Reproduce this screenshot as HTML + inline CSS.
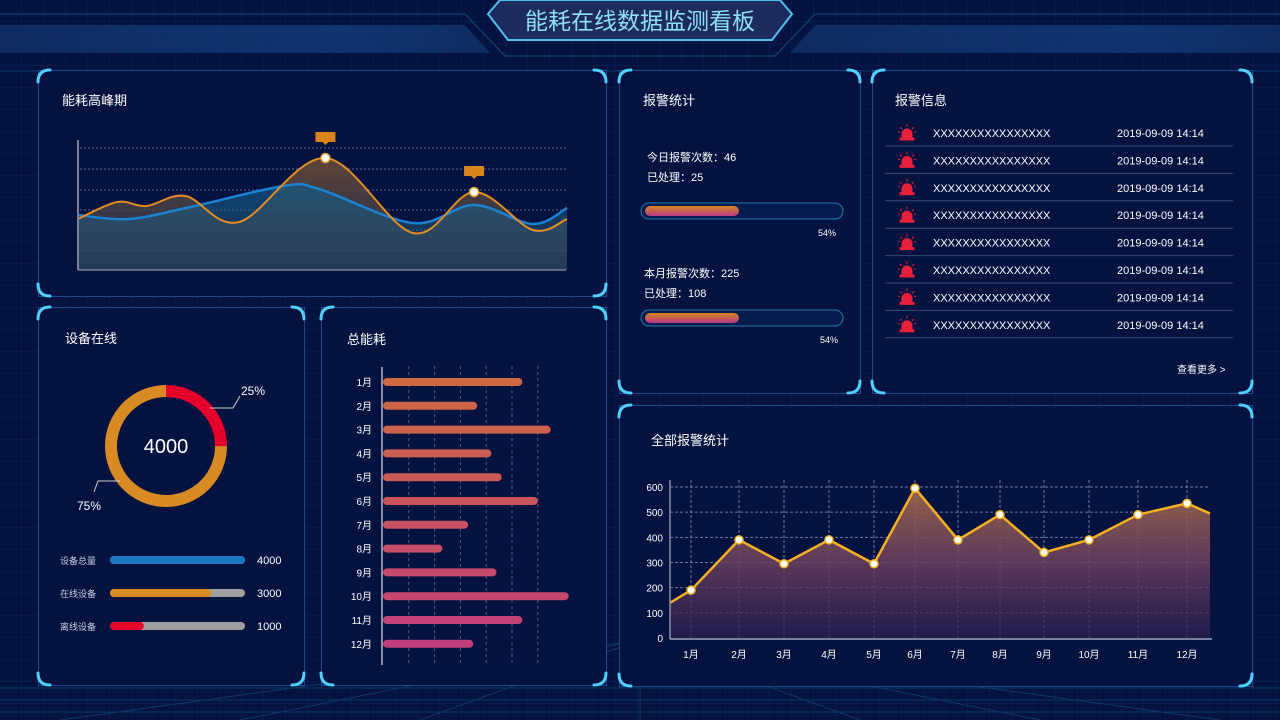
<!DOCTYPE html>
<html><head><meta charset="utf-8"><style>
html,body{margin:0;padding:0;width:1280px;height:720px;overflow:hidden;background:#031243;}
svg{display:block;font-family:"Liberation Sans","Noto Sans CJK SC",sans-serif;}
</style></head><body>
<svg id="root" width="1280" height="720" viewBox="0 0 1280 720">
<defs>
  <pattern id="grid" width="22" height="22" patternUnits="userSpaceOnUse">
    <path d="M22 0V22H0" fill="none" stroke="#0b2157" stroke-width="1"/>
  </pattern>
  <linearGradient id="areaO" x1="0" y1="0" x2="0" y2="1">
    <stop offset="0" stop-color="#6a4a35" stop-opacity="0.9"/><stop offset="1" stop-color="#2a3b5a" stop-opacity="0.6"/>
  </linearGradient>
  <linearGradient id="areaB" x1="0" y1="0" x2="0" y2="1">
    <stop offset="0" stop-color="#0b5a8a" stop-opacity="0.7"/><stop offset="1" stop-color="#3c5a6a" stop-opacity="0.3"/>
  </linearGradient>
  <linearGradient id="areaR" x1="0" y1="0" x2="0" y2="1">
    <stop offset="0" stop-color="#a56a4a" stop-opacity="0.9"/><stop offset="0.5" stop-color="#6a3f5e" stop-opacity="0.85"/><stop offset="1" stop-color="#2b1f4f" stop-opacity="0.7"/>
  </linearGradient>
  <linearGradient id="progG" x1="0" y1="0" x2="0" y2="1">
    <stop offset="0" stop-color="#d8861c"/><stop offset="1" stop-color="#b8388a"/>
  </linearGradient>
  <linearGradient id="bandG" x1="0" y1="0" x2="1" y2="0">
    <stop offset="0" stop-color="#0f2f66"/><stop offset="0.7" stop-color="#123a78"/><stop offset="1" stop-color="#0f2f66"/>
  </linearGradient>
</defs>
<rect width="1280" height="720" fill="#03123f"/>
<rect width="1280" height="720" fill="url(#grid)"/>
<g stroke="#0e4a7a" stroke-width="1" fill="none" opacity="0.7">
  <path d="M0 700 L1280 700 M0 688 L1280 688 M0 712 L1280 712"/>
  <path d="M640 640 L640 720 M640 640 L420 720 M640 640 L860 720 M640 640 L240 720 M640 640 L1040 720 M640 640 L60 720 M640 640 L1220 720"/>
</g>

<!-- header -->
<g>
  <path d="M0 25 L465 25 L490 53 L0 53 Z" fill="url(#bandG)" opacity="0.85"/>
  <path d="M1280 25 L815 25 L790 53 L1280 53 Z" fill="url(#bandG)" opacity="0.85"/>
  <path d="M0 14 L465 14 L505 56 L775 56 L815 14 L1280 14" fill="none" stroke="#174a80" stroke-width="1"/>
  <path d="M488 14 L500 0 L780 0 L792 14 L772 40 L508 40 Z" fill="#1d2a5e" stroke="#4fc0f0" stroke-width="2"/>
  <text x="640" y="29" text-anchor="middle" font-size="23" fill="#8ee0fa">能耗在线数据监测看板</text>
  <path d="M0 71 L1280 71" stroke="#0c3870" stroke-width="1"/>
</g>

<g id="panels"></g>

<g font-size="13" fill="#ffffff">
  <text x="62" y="105">能耗高峰期</text>
  <text x="65" y="343">设备在线</text>
  <text x="347" y="344">总能耗</text>
  <text x="643" y="105">报警统计</text>
  <text x="895" y="105">报警信息</text>
  <text x="651" y="445">全部报警统计</text>
</g>

<g id="peak"></g>
<g id="donut"></g>
<g id="bars"></g>
<g id="alarmStats"></g>
<g id="alarmList"></g>
<g id="allAlarm"></g>
</svg>
<script>
// ---------- data ----------
const peakOrangeX = [0, 8, 14, 22, 33, 50.6, 68.5, 81, 93, 100];
const peakOrangeV = [51, 68, 64, 74, 48, 112, 37, 78, 40, 51];
const peakBlueX = [0, 10.4, 23, 42, 49.3, 68.5, 81, 93, 100];
const peakBlueV = [55, 51, 63, 84, 81, 47, 65, 46, 62];
const peakMarkerIdx = [5, 7];

const donutLabels = ['离线', '在线'];
const donutValues = [25, 75];
const donutCenter = '4000';
const deviceLabels = ['设备总量', '在线设备', '离线设备'];
const deviceValues = [4000, 3000, 1000];

const barMonths = ['1月','2月','3月','4月','5月','6月','7月','8月','9月','10月','11月','12月'];
const barValues = [5.4, 3.65, 6.5, 4.2, 4.6, 6.0, 3.3, 2.3, 4.4, 7.2, 5.4, 3.5];

const todayAlarms = 46, todayHandled = 25, todayPct = 54;
const monthAlarms = 225, monthHandled = 108, monthPct = 54;

const alarmNames = Array(8).fill('XXXXXXXXXXXXXXXX');
const alarmTimes = Array(8).fill('2019-09-09  14:14');

const lineMonths = ['1月','2月','3月','4月','5月','6月','7月','8月','9月','10月','11月','12月'];
const lineValues = [190, 390, 295, 390, 295, 595, 390, 490, 340, 390, 490, 535];
const lineStartVal = 140, lineEndVal = 495;
const lineTicks = [0, 100, 200, 300, 400, 500, 600];

// ---------- helpers ----------
const NS = 'http://www.w3.org/2000/svg';
function mk(tag, attrs, parent){const e=document.createElementNS(NS,tag);for(const k in attrs)e.setAttribute(k,attrs[k]);parent.appendChild(e);return e;}
function txt(s, attrs, parent){const e=mk('text',attrs,parent);e.textContent=s;return e;}
function smooth(pts){
  let d='M'+pts[0][0]+' '+pts[0][1];
  for(let i=0;i<pts.length-1;i++){
    const p0=pts[i-1]||pts[i],p1=pts[i],p2=pts[i+1],p3=pts[i+2]||p2;
    const c1x=p1[0]+(p2[0]-p0[0])/6,c1y=p1[1]+(p2[1]-p0[1])/6;
    const c2x=p2[0]-(p3[0]-p1[0])/6,c2y=p2[1]-(p3[1]-p1[1])/6;
    d+=` C${c1x} ${c1y} ${c2x} ${c2y} ${p2[0]} ${p2[1]}`;
  }
  return d;
}

// ---------- panels ----------
const panels=[['panel-peak',38,70,568,226],['panel-device',38,307,266,378],['panel-total',321,307,285,378],
['panel-alarm-stats',619,70,241,323],['panel-alarm-info',872,70,380,323],['panel-all-alarm',619,405,633,281]];
const pg=document.getElementById('panels');
panels.forEach(p=>{
  const [n,x,y,w,h]=p;
  const g=mk('g',{},pg);
  
  
  mk('rect',{x:x+0.5,y:y+0.5,width:w,height:h,fill:'#03123f',stroke:'#1a4a8c','stroke-width':1},g);
  const c=12,s={fill:'none',stroke:'#4fd0ff','stroke-width':3,'stroke-linecap':'round'};
  mk('path',Object.assign({d:`M${x} ${y+c} Q${x} ${y} ${x+c} ${y}`},s),g);
  mk('path',Object.assign({d:`M${x+w-c} ${y} Q${x+w} ${y} ${x+w} ${y+c}`},s),g);
  mk('path',Object.assign({d:`M${x} ${y+h-c} Q${x} ${y+h} ${x+c} ${y+h}`},s),g);
  mk('path',Object.assign({d:`M${x+w-c} ${y+h} Q${x+w} ${y+h} ${x+w} ${y+h-c}`},s),g);
});

// ---------- peak chart ----------
(function(){
  const g=document.getElementById('peak');
  const X=v=>78+v*4.89, Y=v=>270-v;
  [148,169,190,210,230,250].forEach(y=>mk('line',{x1:80,x2:566,y1:y,y2:y,stroke:'#5a6a90','stroke-dasharray':'2 2','stroke-width':1},g));
  const op=peakOrangeX.map((x,i)=>[X(x),Y(peakOrangeV[i])]);
  const bp=peakBlueX.map((x,i)=>[X(x),Y(peakBlueV[i])]);
  const ao=mk('path',{d:smooth(op)+` L${X(100)} 270 L${X(0)} 270 Z`,fill:'url(#areaO)'},g);
  
  
  const ab=mk('path',{d:smooth(bp)+` L${X(100)} 270 L${X(0)} 270 Z`,fill:'url(#areaB)'},g);
  
  
  const lb=mk('path',{d:smooth(bp),fill:'none',stroke:'#1a82d0','stroke-width':2.5},g);
  
  
  const lo=mk('path',{d:smooth(op),fill:'none',stroke:'#e28e22','stroke-width':2},g);
  
  
  mk('line',{x1:78,x2:78,y1:140,y2:270,stroke:'#7a8098','stroke-width':2},g);
  mk('line',{x1:78,x2:566,y1:270,y2:270,stroke:'#7a8098','stroke-width':1.5},g);
  peakMarkerIdx.forEach(i=>{
    const [x,y]=op[i];
    const t=mk('path',{d:`M${x-10} ${y-26} h20 v10 h-7 l-3 3 l-3 -3 h-7 Z`,fill:'#d8861c'},g);
    
    
    const c=mk('circle',{cx:x,cy:y,r:4.5,fill:'#fff',stroke:'#e8a030','stroke-width':1.5},g);
    
    
  });
})();

// ---------- donut ----------
(function(){
  const g=document.getElementById('donut');
  const cx=166,cy=446,r=55,C=2*Math.PI*r,tot=donutValues.reduce((a,b)=>a+b,0);
  const cols=['#e4002b','#d98a22'];
  let off=0;
  donutValues.forEach((v,i)=>{
    const len=v/tot*C;
    const a=mk('circle',{cx,cy,r,fill:'none',stroke:cols[i],'stroke-width':12,'stroke-dasharray':`${len} ${C}`,'stroke-dashoffset':-off,transform:`rotate(-90 ${cx} ${cy})`},g);
    
    
    off+=len;
  });
  txt(donutCenter,{x:cx,y:cy+7,'text-anchor':'middle','font-size':20,fill:'#fff'},g);
  mk('path',{d:'M210 408 L233 408 L240 396',fill:'none',stroke:'#ccc'},g);
  txt(donutValues[0]+'%',{x:241,y:395,'font-size':12,fill:'#fff'},g);
  mk('path',{d:'M120 481 L98 481 L94 492',fill:'none',stroke:'#ccc'},g);
  txt(donutValues[1]+'%',{x:77,y:510,'font-size':12,fill:'#fff'},g);
  const max=deviceValues[0];
  const fc=['#1a78c2','#d98a22','#e4002b'];
  deviceLabels.forEach((l,i)=>{
    const y=560+i*33;
    txt(l,{x:60,y:y+4,'font-size':9,fill:'#c8cfe0'},g);
    mk('rect',{x:110,y:y-4,width:135,height:8,rx:4,fill:'#a0a0a0'},g);
    const b=mk('rect',{x:110,y:y-4,width:135*deviceValues[i]/max,height:8,rx:4,fill:fc[i]},g);
    
    
    txt(String(deviceValues[i]),{x:257,y:y+4,'font-size':11,fill:'#fff'},g);
  });
})();

// ---------- total energy bars ----------
(function(){
  const g=document.getElementById('bars');
  const X=v=>383+v*25.8;
  for(let k=1;k<=6;k++) mk('line',{x1:X(k),x2:X(k),y1:366,y2:664,stroke:'#4a5a8a','stroke-dasharray':'3 3'},g);
  mk('line',{x1:382,x2:382,y1:367,y2:665,stroke:'#8890a8','stroke-width':2},g);
  const c0=[205,104,64], c1=[194,62,122];
  barMonths.forEach((m,i)=>{
    const y=382+i*23.8;
    const t=i/(barMonths.length-1);
    const col='rgb('+c0.map((c,k)=>Math.round(c+(c1[k]-c)*t)).join(',')+')';
    txt(m,{x:372,y:y+4,'text-anchor':'end','font-size':10,fill:'#fff'},g);
    const b=mk('rect',{x:383,y:y-4,width:X(barValues[i])-383,height:8,rx:4,fill:col},g);
    
    
  });
})();

// ---------- alarm stats ----------
(function(){
  const g=document.getElementById('alarmStats');
  const blocks=[[647,157,'今日报警次数：'+todayAlarms,'已处理：'+todayHandled,203,todayPct,818],[644,273,'本月报警次数：'+monthAlarms,'已处理：'+monthHandled,310,monthPct,820]];
  blocks.forEach(b=>{
    txt(b[2],{x:b[0],y:b[1]+4,'font-size':11,fill:'#fff'},g);
    txt(b[3],{x:b[0],y:b[1]+24,'font-size':11,fill:'#fff'},g);
    mk('rect',{x:641,y:b[4],width:202,height:16,rx:8,fill:'#051a4e',stroke:'#1e7aa8'},g);
    const p=mk('rect',{x:645,y:b[4]+3,width:b[5]/100*174,height:10,rx:5,fill:'url(#progG)'},g);
    
    
    txt(b[5]+'%',{x:b[6],y:b[4]+33,'font-size':9,fill:'#fff'},g);
  });
})();

// ---------- alarm list ----------
(function(){
  const g=document.getElementById('alarmList');
  alarmNames.forEach((n,i)=>{
    const y=133+i*27.4;
    const row=mk('g',{},g);
    
    
    mk('path',{d:`M902 ${y+5} v-4 a5 5 0 0 1 10 0 v4 Z M900 ${y+5} h14 v2 h-14 Z M907 ${y-9} v3 M900 ${y-6} l2 2 M914 ${y-6} l-2 2 M898 ${y-1} h2 M914 ${y-1} h2`,fill:'#e8203a',stroke:'#e8203a','stroke-width':1},row);
    txt(n,{x:933,y:y+4,'font-size':11,fill:'#fff'},row);
    txt(alarmTimes[i],{x:1117,y:y+4,'font-size':11,fill:'#fff','xml:space':'preserve'},row);
    mk('line',{x1:885,x2:1233,y1:y+13,y2:y+13,stroke:'#3a4a78'},row);
  });
  const m=txt('查看更多 >',{x:1177,y:373,'font-size':10,fill:'#fff'},g);
  
  
})();

// ---------- all alarm line chart ----------
(function(){
  const g=document.getElementById('allAlarm');
  const Y=v=>638-v*151/600;
  const monthPos=[691,739,784,829,874,915,958,1000,1044,1089,1138,1187];
  const X=i=>monthPos[i];
  const xL=670,xR=1210;
  lineTicks.forEach(t=>{
    txt(String(t),{x:663,y:Y(t)+4,'text-anchor':'end','font-size':10,fill:'#fff'},g);
    if(t>0) mk('line',{x1:xL,x2:xR,y1:Y(t),y2:Y(t),stroke:'#6a7aa0','stroke-dasharray':'3 2'},g);
  });
  lineMonths.forEach((m,i)=>{
    mk('line',{x1:X(i),x2:X(i),y1:480,y2:638,stroke:'#6a7aa0','stroke-dasharray':'3 2'},g);
    txt(m,{x:X(i),y:658,'text-anchor':'middle','font-size':10,fill:'#fff'},g);
  });
  const pts=[[xL,Y(lineStartVal)]].concat(lineValues.map((v,i)=>[X(i),Y(v)])).concat([[xR,Y(lineEndVal)]]);
  const d='M'+pts.map(p=>p.join(' ')).join(' L');
  const a=mk('path',{d:d+` L${xR} 638 L${xL} 638 Z`,fill:'url(#areaR)'},g);
  
  
  const l=mk('path',{d,fill:'none',stroke:'#f5b021','stroke-width':2.5},g);
  
  
  mk('line',{x1:670,x2:670,y1:480,y2:639,stroke:'#8890a8','stroke-width':1.5},g);
  mk('line',{x1:670,x2:1212,y1:639,y2:639,stroke:'#a0a8c0','stroke-width':1.5},g);
  lineValues.forEach((v,i)=>{
    const c=mk('circle',{cx:X(i),cy:Y(v),r:4,fill:'#fff',stroke:'#f5b021','stroke-width':1.5},g);
    
    
  });
})();
</script>
</body></html>
